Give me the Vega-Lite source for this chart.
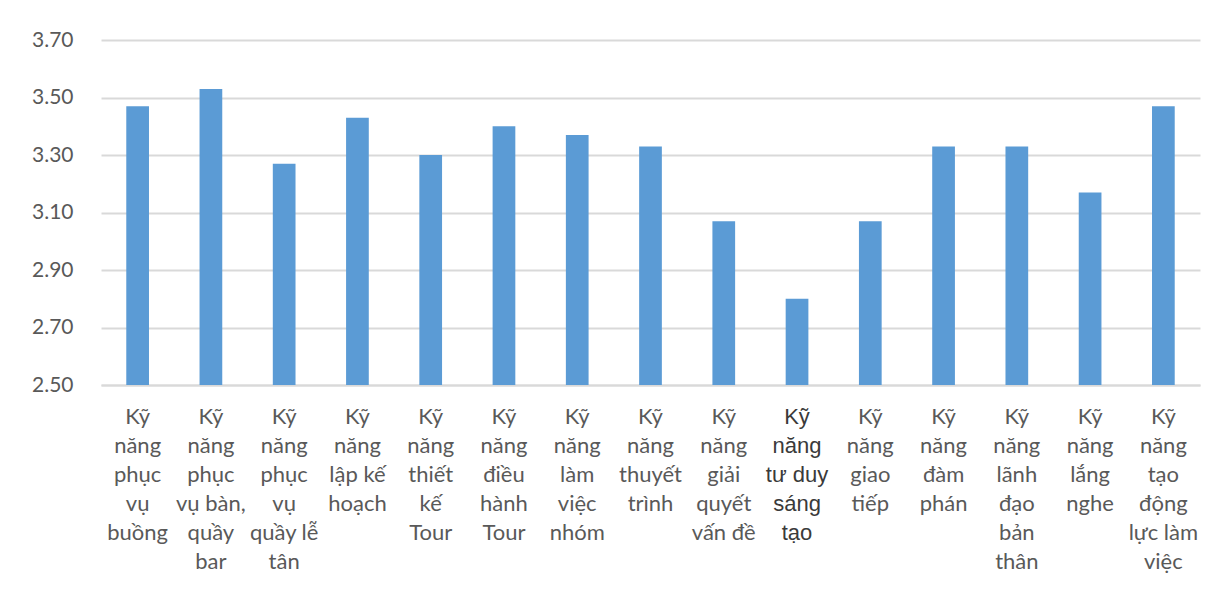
{
  "$schema": "https://vega.github.io/schema/vega-lite/v6.json",
  "width": 1099,
  "height": 345,
  "autosize": {"type": "none"},
  "padding": {"left": 101, "top": 40, "right": 28, "bottom": 205},
  "background": "white",
  "data": {
    "values": [
      {"skill": "Kỹ|năng|phục|vụ|buồng", "score": 3.47},
      {"skill": "Kỹ|năng|phục|vụ bàn,|quầy|bar", "score": 3.53},
      {"skill": "Kỹ|năng|phục|vụ|quầy lễ|tân", "score": 3.27},
      {"skill": "Kỹ|năng|lập kế|hoạch", "score": 3.43},
      {"skill": "Kỹ|năng|thiết|kế|Tour", "score": 3.30},
      {"skill": "Kỹ|năng|điều|hành|Tour", "score": 3.40},
      {"skill": "Kỹ|năng|làm|việc|nhóm", "score": 3.37},
      {"skill": "Kỹ|năng|thuyết|trình", "score": 3.33},
      {"skill": "Kỹ|năng|giải|quyết|vấn đề", "score": 3.07},
      {"skill": "Kỹ|năng|tư duy|sáng|tạo", "score": 2.80},
      {"skill": "Kỹ|năng|giao|tiếp", "score": 3.07},
      {"skill": "Kỹ|năng|đàm|phán", "score": 3.33},
      {"skill": "Kỹ|năng|lãnh|đạo|bản|thân", "score": 3.33},
      {"skill": "Kỹ|năng|lắng|nghe", "score": 3.17},
      {"skill": "Kỹ|năng|tạo|động|lực làm|việc", "score": 3.47}
    ]
  },
  "mark": {"type": "bar", "color": "#5B9BD5", "clip": true},
  "encoding": {
    "x": {
      "field": "skill",
      "type": "nominal",
      "sort": null,
      "scale": {"paddingInner": 0.69, "paddingOuter": 0.345},
      "axis": {
        "title": null,
        "labelAngle": 0,
        "labelExpr": "split(datum.value, '|')",
        "labelFont": {"condition": {"test": "indexof(datum.value, 'tư duy') >= 0", "value": "Liberation Sans"}, "value": "Lato"},
        "labelColor": {"condition": {"test": "indexof(datum.value, 'tư duy') >= 0", "value": "#3a3a3a"}, "value": "#595959"},
        "labelFontSize": 22,
        "labelLineHeight": 29,
        "labelPadding": 21,
        "labelBaseline": "top",
        "labelOverlap": false,
        "labelLimit": 0,
        "ticks": false,
        "domainColor": "#d9d9d9",
        "domainWidth": 2
      }
    },
    "y": {
      "field": "score",
      "type": "quantitative",
      "scale": {"domain": [2.5, 3.7], "zero": false, "nice": false},
      "axis": {
        "title": null,
        "values": [2.5, 2.7, 2.9, 3.1, 3.3, 3.5, 3.7],
        "format": ".2f",
        "labelFont": "Lato",
        "labelFontSize": 21,
        "labelColor": "#595959",
        "labelPadding": 28,
        "ticks": false,
        "domain": false,
        "gridColor": "#d9d9d9",
        "gridWidth": 2
      }
    }
  },
  "config": {"view": {"stroke": null}}
}
